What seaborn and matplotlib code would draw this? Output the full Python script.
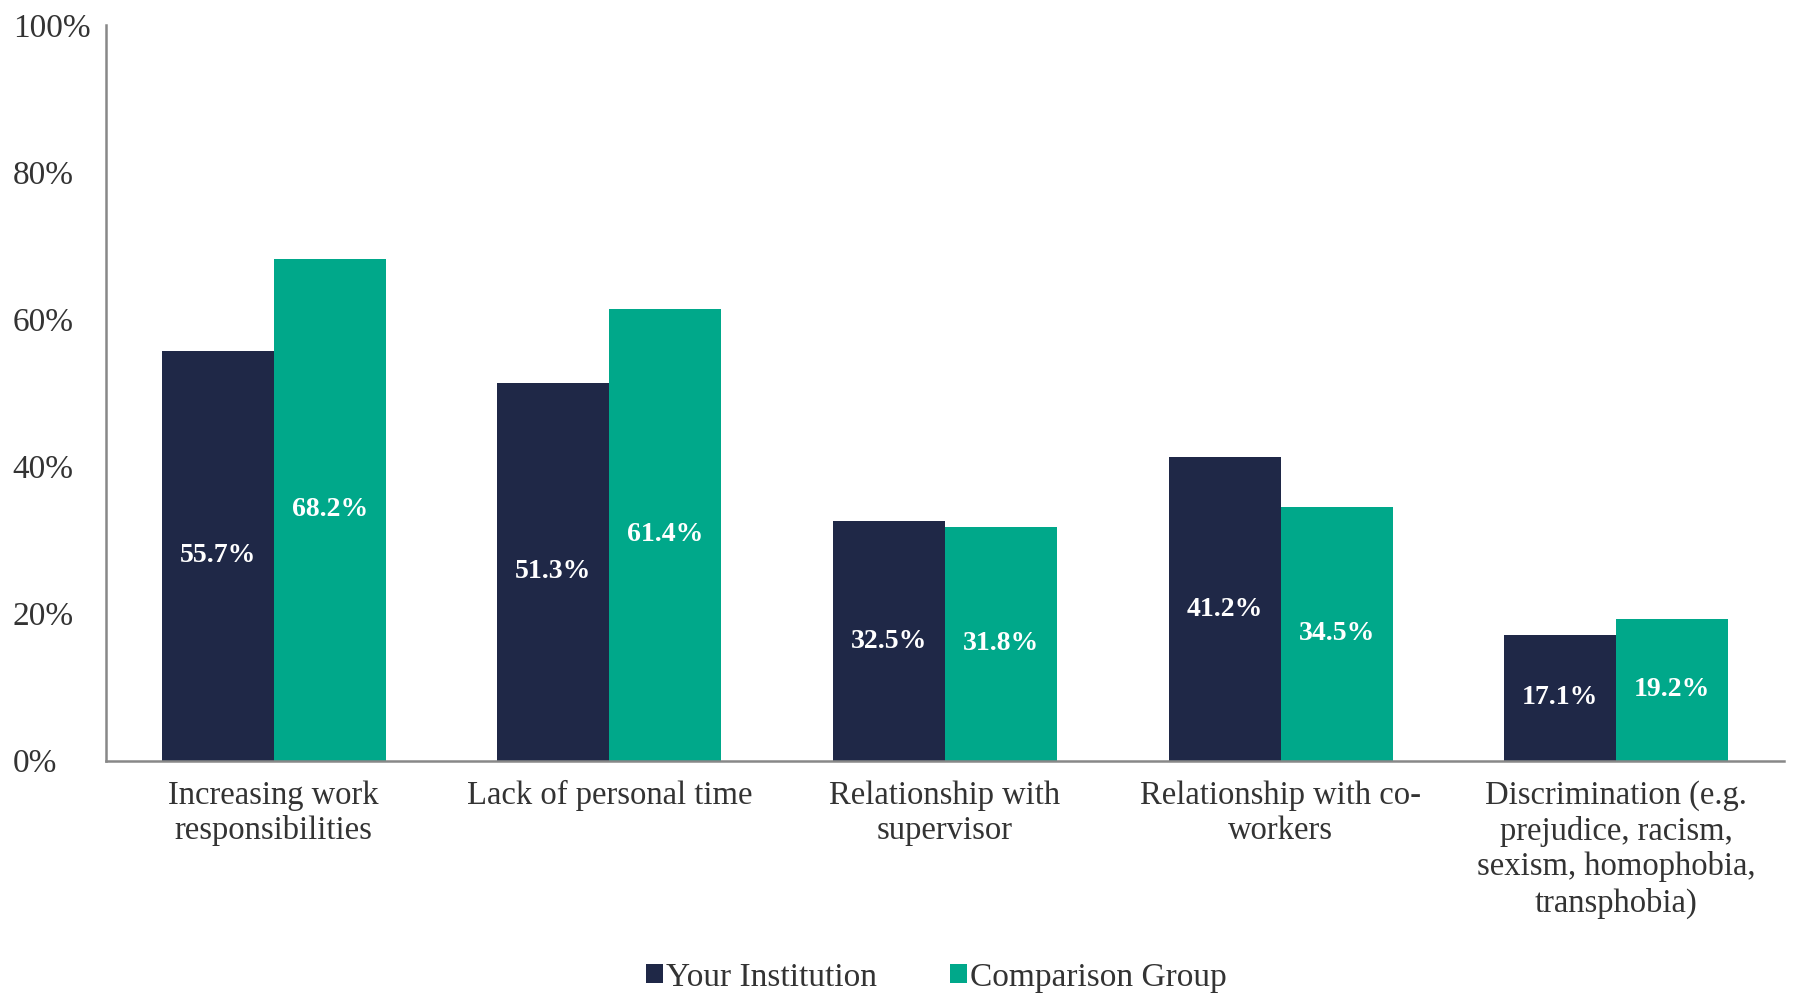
import matplotlib
matplotlib.use("Agg")
import matplotlib.pyplot as plt
from matplotlib.patches import Patch
import seaborn as sns
import pandas as pd

categories = [
    "Increasing work\nresponsibilities",
    "Lack of personal time",
    "Relationship with\nsupervisor",
    "Relationship with co-\nworkers",
    "Discrimination (e.g.\nprejudice, racism,\nsexism, homophobia,\ntransphobia)",
]
series_names = ["Your Institution", "Comparison Group"]
your_institution = [55.7, 51.3, 32.5, 41.2, 17.1]
comparison_group = [68.2, 61.4, 31.8, 34.5, 19.2]
y_ticks = [0, 20, 40, 60, 80, 100]
colors = ["#1F2847", "#00A88A"]

df = pd.DataFrame({
    "category": categories * 2,
    "group": [series_names[0]] * 5 + [series_names[1]] * 5,
    "value": your_institution + comparison_group,
})

sns.set_theme(style="white")
plt.rcParams["font.family"] = ["Liberation Serif", "DejaVu Serif"]

fig = plt.figure(figsize=(17.94, 9.93), dpi=100)
ax = fig.add_axes([0.059, 0.234, 0.9355, 0.741])

sns.barplot(data=df, x="category", y="value", hue="group", order=categories,
            hue_order=series_names, palette=colors, width=0.667, gap=0,
            saturation=1, linewidth=0, legend=False, ax=ax)

for cont in ax.containers:
    ax.bar_label(cont, labels=[f"{v:.1f}%" for v in cont.datavalues],
                 label_type="center", color="white", fontsize=20,
                 fontweight="bold")

ax.set_xlim(-0.5, 4.5)
ax.set_ylim(0, 100)
ax.set_yticks(y_ticks)
ax.set_yticklabels([f"{t}%" for t in y_ticks], fontsize=24, color="#333333")
for lbl in ax.get_yticklabels():
    lbl.set_horizontalalignment("left")
ax.tick_params(axis="y", length=0, pad=67)

ax.set_xticks(range(len(categories)))
ax.set_xticklabels(categories, fontsize=23.5, color="#333333", linespacing=1.2)
ax.tick_params(axis="x", which="major", length=0, pad=14)
ax.set_xticks([i - 0.5 for i in range(len(categories) + 1)], minor=True)
ax.tick_params(axis="x", which="minor", direction="in", length=6,
               width=1.5, color="#888888")

ax.set_xlabel("")
ax.set_ylabel("")
for side in ["top", "right"]:
    ax.spines[side].set_visible(False)
for side in ["left", "bottom"]:
    ax.spines[side].set_color("#888888")
    ax.spines[side].set_linewidth(1.8)

handles = [Patch(facecolor=c, edgecolor="none") for c in colors]
fig.legend(handles, series_names, loc="lower center",
           bbox_to_anchor=(0.522, -0.03), ncol=2, frameon=False,
           fontsize=24, handlelength=0.5, handleheight=0.5,
           handletextpad=0.1, columnspacing=2.2, labelcolor="#333333")

fig.savefig("out.png", dpi=100)
